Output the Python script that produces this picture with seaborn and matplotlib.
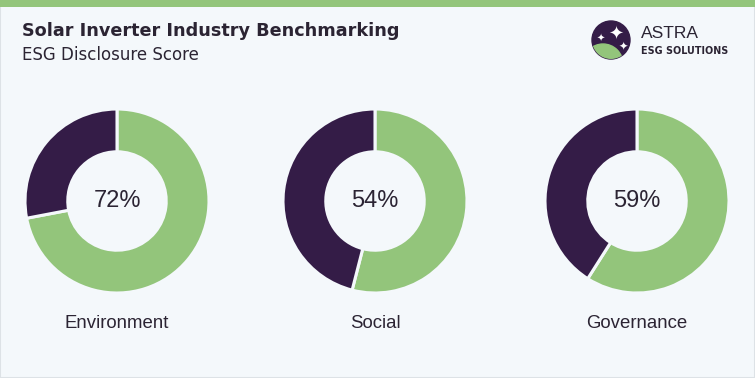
import matplotlib
matplotlib.use("Agg")
import matplotlib.pyplot as plt
import seaborn as sns
from matplotlib.patches import Rectangle, Circle

categories = ["Environment", "Social", "Governance"]
scores = [72, 54, 59]
title = "Solar Inverter Industry Benchmarking"
subtitle = "ESG Disclosure Score"

GREEN = "#93c57b"
DARK = "#341c47"
BG = "#f4f8fb"
TXT = "#2b2433"

sns.set_theme(style="white")
plt.rcParams["font.family"] = ["Liberation Sans", "DejaVu Sans"]

W, H = 755, 378
fig = plt.figure(figsize=(W / 100, H / 100), dpi=100)
fig.patch.set_facecolor(BG)

# border and top bar
fig.add_artist(Rectangle((0, 0), 1, 1, transform=fig.transFigure, fill=False,
                         edgecolor="#dde2e6", linewidth=1.5))
fig.add_artist(Rectangle((0, 1 - 7 / H), 1, 7 / H, transform=fig.transFigure,
                         facecolor=GREEN, edgecolor="none"))

fig.text(22 / W, 1 - 31 / H, title, fontsize=12.7, fontweight="bold",
         family=["DejaVu Sans"], color=TXT, va="center", ha="left")
fig.text(22 / W, 1 - 55 / H, subtitle, fontsize=12.0, color=TXT,
         family=["DejaVu Sans"], va="center", ha="left")

# logo
lax = fig.add_axes([(611 - 20) / W, 1 - (40 + 20) / H, 40 / W, 40 / H])
lax.set_xlim(-1, 1); lax.set_ylim(-1, 1); lax.set_aspect("equal"); lax.axis("off")
base = Circle((0, 0), 0.95, color=DARK)
lax.add_patch(base)
g = Circle((-0.4, -1.2), 1.0, color=GREEN)
lax.add_patch(g)
g.set_clip_path(base)
lax.text(0.22, 0.28, "\u2726", color="white", fontsize=13, ha="center", va="center",
         family="DejaVu Sans")
lax.text(-0.5, 0.05, "\u2726", color="white", fontsize=7, ha="center", va="center",
         family="DejaVu Sans")
lax.text(0.6, -0.35, "\u2726", color="white", fontsize=8, ha="center", va="center",
         family="DejaVu Sans")
fig.text(641 / W, 1 - 33 / H, "ASTRA", fontsize=12.5, color=TXT, va="center", ha="left")
fig.text(641 / W, 1 - 51 / H, "ESG SOLUTIONS", fontsize=6.9, fontweight="bold",
         family=["DejaVu Sans"], color=TXT, va="center", ha="left")

centers = [117, 375, 637]
cy = 201
R = 92
for cat, val, cx in zip(categories, scores, centers):
    ax = fig.add_axes([(cx - R) / W, (H - cy - R) / H, 2 * R / W, 2 * R / H])
    ax.set_facecolor("none")
    ax.pie([val, 100 - val], colors=[GREEN, DARK], startangle=90, counterclock=False,
           radius=1, wedgeprops=dict(width=0.465, edgecolor=BG, linewidth=2.2))
    ax.set_xlim(-1, 1); ax.set_ylim(-1, 1)
    ax.text(0, 0, f"{val}%", ha="center", va="center", fontsize=17, color=TXT)
    fig.text(cx / W, 1 - 323 / H, cat, ha="center", va="center", fontsize=13.4, color=TXT)

fig.savefig("out.png", dpi=100, facecolor=BG)
